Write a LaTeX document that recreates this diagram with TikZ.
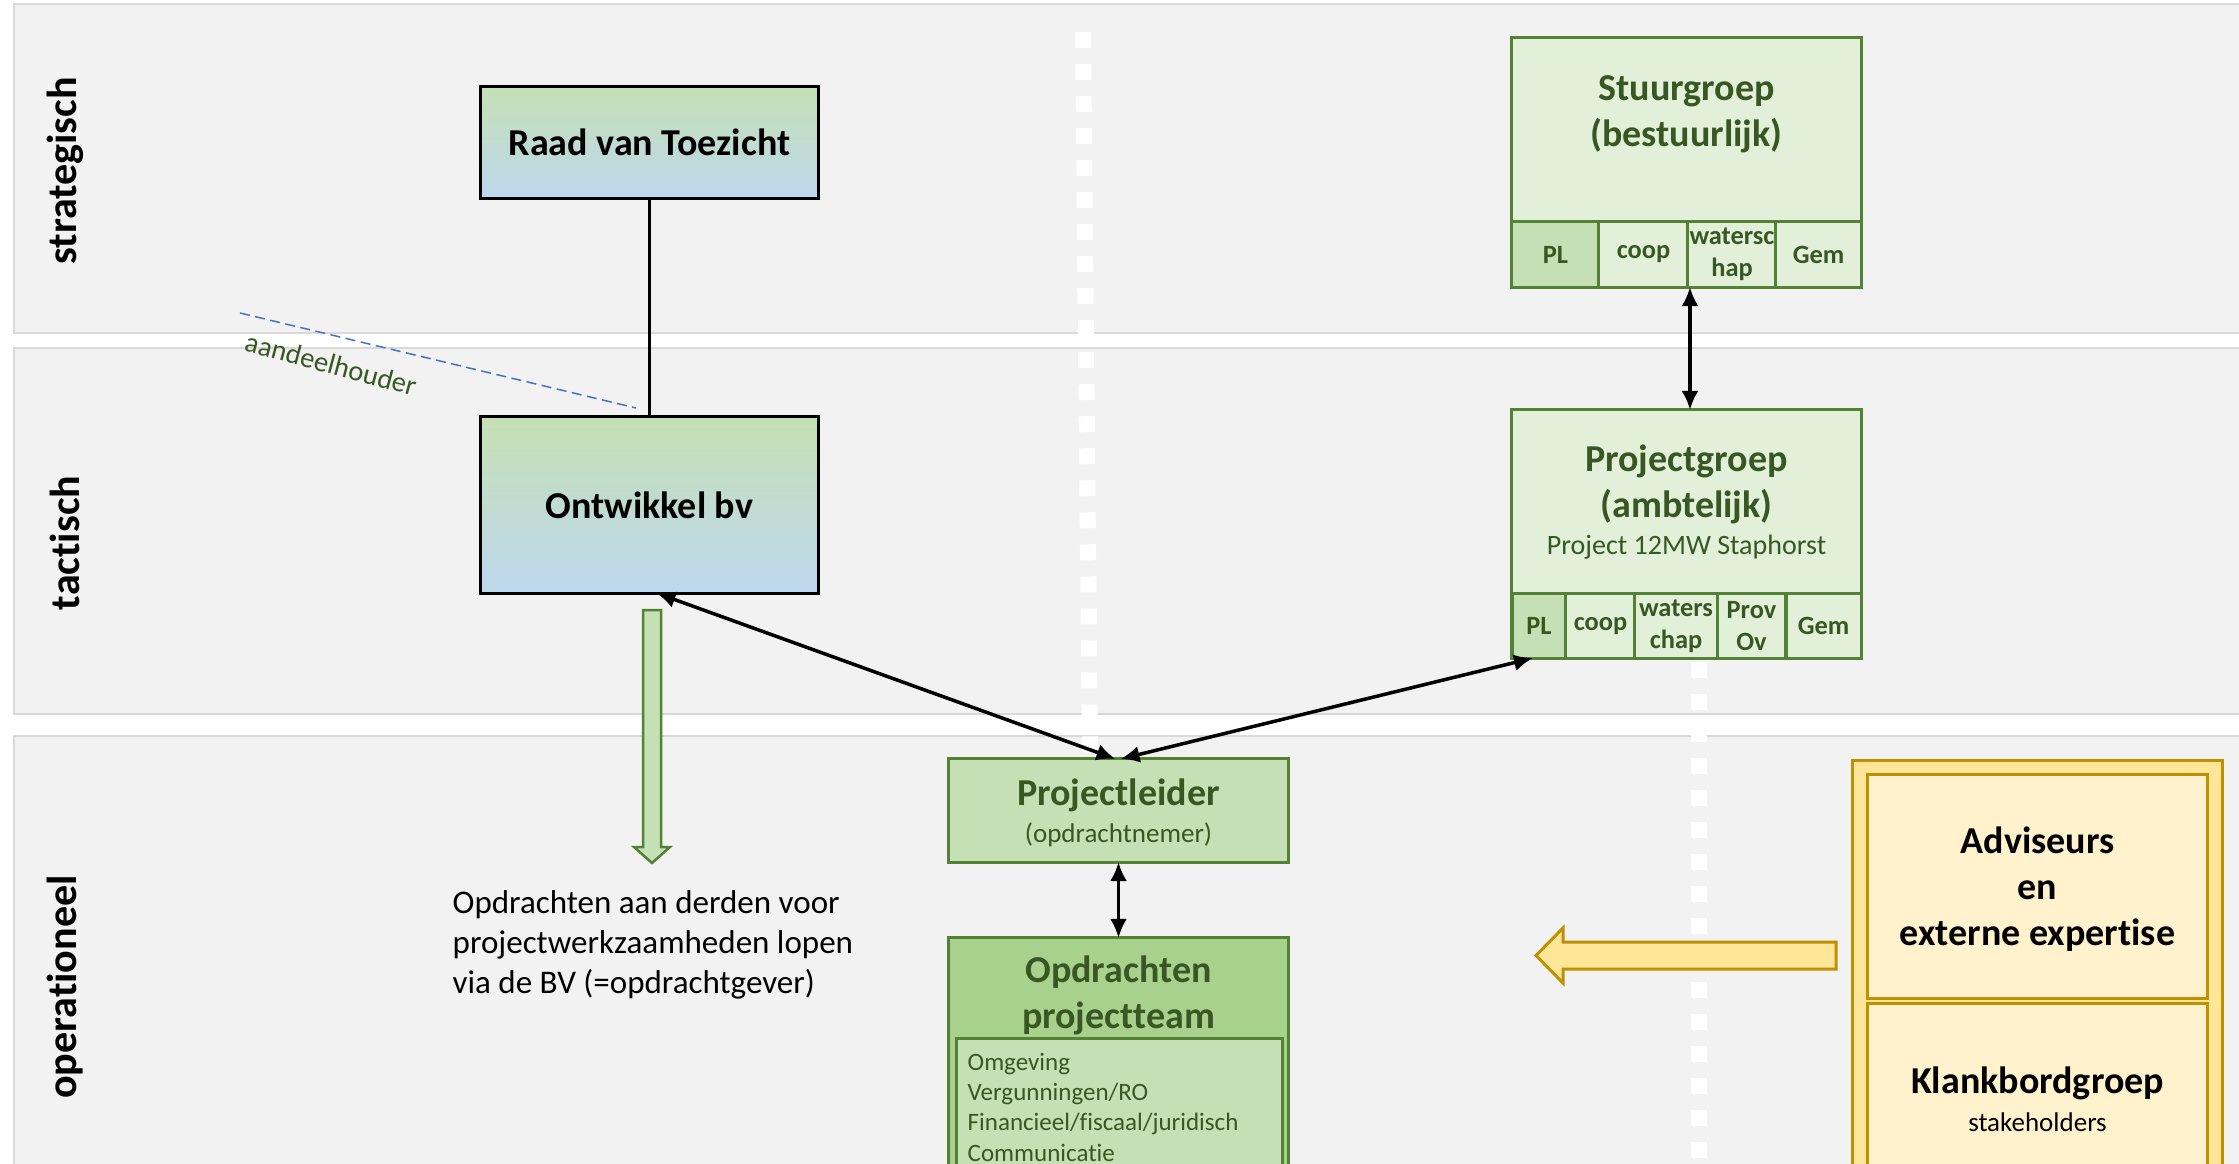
\documentclass[tikz,border=0pt]{standalone}
\usepackage{fontspec}
\setmainfont{Carlito}[Ligatures={NoCommon,NoRequired,NoContextual}]
\usetikzlibrary{arrows.meta,calc}
\definecolor{bandfill}{HTML}{F2F2F2}
\definecolor{bandline}{HTML}{D9D9D9}
\definecolor{gA}{HTML}{C5E0B4}
\definecolor{gB}{HTML}{BDD7EE}
\definecolor{grline}{HTML}{548235}
\definecolor{grlight}{HTML}{E2F0D9}
\definecolor{grmid}{HTML}{C5E0B4}
\definecolor{grdark}{HTML}{A9D18E}
\definecolor{grtext}{HTML}{385723}
\definecolor{ylfill}{HTML}{FFE699}
\definecolor{yllight}{HTML}{FFF2CC}
\definecolor{ylline}{HTML}{BF9000}
\definecolor{dashblue}{HTML}{4472C4}
\begin{document}
\begin{tikzpicture}[x=0.01cm,y=-0.01cm,
  band/.style={fill=bandfill,draw=bandline,line width=0.025cm},
  whitedots/.style={draw=white,line width=0.16cm,dash pattern=on 0.16cm off 0.16cm},
  bvbox/.style={draw=black,line width=0.03cm,top color=gA,bottom color=gB,
    font=\bfseries\fontsize{10.81pt}{13pt}\selectfont,inner sep=0pt,outer sep=0pt},
  grbox/.style={draw=grline,line width=0.03cm,fill=grlight,inner sep=0pt,outer sep=0pt,text=grtext},
  cell/.style={grbox,align=center,font=\bfseries\fontsize{7.5pt}{9.1pt}\selectfont},
  gtitle/.style={align=center,text=grtext,inner sep=0pt,font=\bfseries\fontsize{10.81pt}{13.1pt}\selectfont},
  gsub/.style={align=center,text=grtext,inner sep=0pt,font=\fontsize{7.97pt}{9.6pt}\selectfont},
  ybox/.style={draw=ylline,line width=0.03cm,fill=yllight,inner sep=0pt,outer sep=0pt},
  ytitle/.style={align=center,inner sep=0pt,font=\bfseries\fontsize{10.81pt}{13.1pt}\selectfont},
  lanelabel/.style={rotate=90,inner sep=0pt,font=\bfseries\fontsize{11.95pt}{14pt}\selectfont},
  arr/.style={line width=0.035cm,{Latex[length=0.19cm,width=0.17cm]}-{Latex[length=0.19cm,width=0.17cm]}},
  plainline/.style={line width=0.035cm,draw=black},
  blockgreen/.style={fill=grmid,draw=grline,line width=0.025cm},
  blockyellow/.style={fill=ylfill,draw=ylline,line width=0.03cm}
]
\useasboundingbox (0,0) rectangle (2239,1164);
\clip (0,0) rectangle (2239,1164);
\fill[white] (0,0) rectangle (2239,1164);

% bands
\draw[band] (14,4) rectangle (2260,333);
\draw[band] (14,348) rectangle (2260,714);
\draw[band] (14,736) rectangle (2260,1220);

% lane labels
\node[lanelabel] (lstr) at (65,171) {strategisch};
\node[lanelabel] (ltac) at (65,543) {tactisch};
\node[lanelabel] (lope) at (65,987) {operationeel};

% white dotted separators
\coordinate (d1a) at (1083,32);
\coordinate (d1b) at (1090,760);
\coordinate (d2a) at (1699,662);
\coordinate (d2b) at (1699,1180);
\draw[whitedots] (d1a) -- (d1b);
\draw[whitedots] (d2a) -- (d2b);

% dashed shareholder line
\coordinate (dl1) at (240,313);
\coordinate (dl2) at (636,408);
\draw[draw=dashblue,line width=0.015cm,dash pattern=on 0.1cm off 0.055cm] (dl1) -- (dl2);
\node[text=grtext,rotate=-15,inner sep=0pt,font=\fontsize{8.1pt}{9.5pt}\selectfont] (aand) at (331,364) {aandeelhouder};

% left boxes
\node[bvbox,minimum width=3.37cm,minimum height=1.11cm] (rvt) at (649.5,142.5) {Raad van Toezicht};
\node[bvbox,minimum width=3.37cm,minimum height=1.76cm] (ob) at (649.5,505) {Ontwikkel bv};
\draw[plainline] (rvt.south) -- (ob.south |- ob.north);

% green block arrow
\draw[blockgreen] (643,610) -- (661,610) -- (661,847) -- (670,847) -- (652,863) -- (634,847) -- (643,847) -- cycle;
\node[anchor=west,align=left,inner sep=0pt,font=\fontsize{9.39pt}{11.38pt}\selectfont] (optxt) at (452,945)
  {Opdrachten aan derden voor\\projectwerkzaamheden lopen\\via de BV (=opdrachtgever)};

% Stuurgroep
\node[grbox,minimum width=3.49cm,minimum height=2.49cm] (sg) at (1686.5,162.5) {};
\node[gtitle] (sgt) at (1686.5,114) {Stuurgroep\\(bestuurlijk)};
\node[cell,fill=grmid,minimum width=0.87cm,minimum height=0.65cm] (sg1) at (1555.5,254.5) {PL};
\node[cell,minimum width=0.89cm,minimum height=0.65cm] (sg2) at (1643.5,254.5) {coop};
\node[cell,minimum width=0.88cm,minimum height=0.65cm] (sg3) at (1732,254.5) {watersc\\hap};
\node[cell,minimum width=0.85cm,minimum height=0.65cm] (sg4) at (1818.5,254.5) {Gem};

% Projectgroep
\node[grbox,minimum width=3.49cm,minimum height=2.48cm] (pg) at (1686.5,534) {};
\node[gtitle] (pgt) at (1686.5,484.5) {Projectgroep\\(ambtelijk)};
\node[gsub] (pgs) at (1686.5,547) {Project 12MW Staphorst};
\node[cell,fill=grmid,minimum width=0.54cm,minimum height=0.64cm] (pg1) at (1539,626) {PL};
\node[cell,minimum width=0.69cm,minimum height=0.64cm] (pg2) at (1600.5,626) {coop};
\node[cell,minimum width=0.82cm,minimum height=0.64cm] (pg3) at (1676,626) {waters\\chap};
\node[cell,minimum width=0.69cm,minimum height=0.64cm] (pg4) at (1751.5,626) {Prov\\Ov};
\node[cell,minimum width=0.75cm,minimum height=0.64cm] (pg5) at (1823.5,626) {Gem};

\draw[arr] ($(sg3.south west)+(2,0)$) -- ($(sg3.south west |- pg.north)+(2,0)$);

% Projectleider
\node[grbox,fill=grmid,minimum width=3.39cm,minimum height=1.03cm] (pl) at (1118.5,810.5) {};
\node[gtitle] (plt) at (1118.5,795) {Projectleider};
\node[gsub,font=\fontsize{7.68pt}{9pt}\selectfont] (pls) at (1118.5,835) {(opdrachtnemer)};

% Opdrachten projectteam
\node[grbox,fill=grdark,minimum width=3.39cm,minimum height=3.12cm] (opd) at (1118.5,1094) {};
\node[gtitle] (opdt) at (1118.5,995.5) {Opdrachten\\projectteam};
\node[grbox,fill=grmid,minimum width=3.25cm,minimum height=2.11cm] (opdin) at (1119.5,1144.5) {};
\node[anchor=north west,align=left,inner sep=0pt,text=grtext,font=\fontsize{7.11pt}{8.54pt}\selectfont] (opdl) at (967,1053)
  {Omgeving\\Vergunningen/RO\\Financieel/fiscaal/juridisch\\Communicatie};

\draw[arr] (pl.south) -- (opd.north);
\draw[arr] ($(ob.south)+(7,0)$) -- ($(pl.north)+(-3,0)$);
\draw[arr] ($(pl.north)+(2,0)$) -- ($(pg.south west)+(21,0)$);

% yellow column
\node[ybox,fill=ylfill,minimum width=3.69cm,minimum height=4.89cm] (yout) at (2037.5,1005.5) {};
\node[ybox,minimum width=3.39cm,minimum height=2.23cm] (adv) at (2037.5,886.5) {};
\node[ytitle] (advt) at (2037.5,889) {Adviseurs\\en\\externe expertise};
\node[ybox,minimum width=3.39cm,minimum height=2.46cm] (kbg) at (2037.5,1127) {};
\node[ytitle] (kbgt) at (2037.5,1083) {Klankbordgroep};
\node[inner sep=0pt,font=\fontsize{7.68pt}{9pt}\selectfont] (kbgs) at (2037.5,1122) {stakeholders};

\draw[blockyellow] (1836,942) -- (1563,942) -- (1563,928) -- (1536,955.5) -- (1563,983) -- (1563,969) -- (1836,969) -- cycle;
\end{tikzpicture}
\end{document}
